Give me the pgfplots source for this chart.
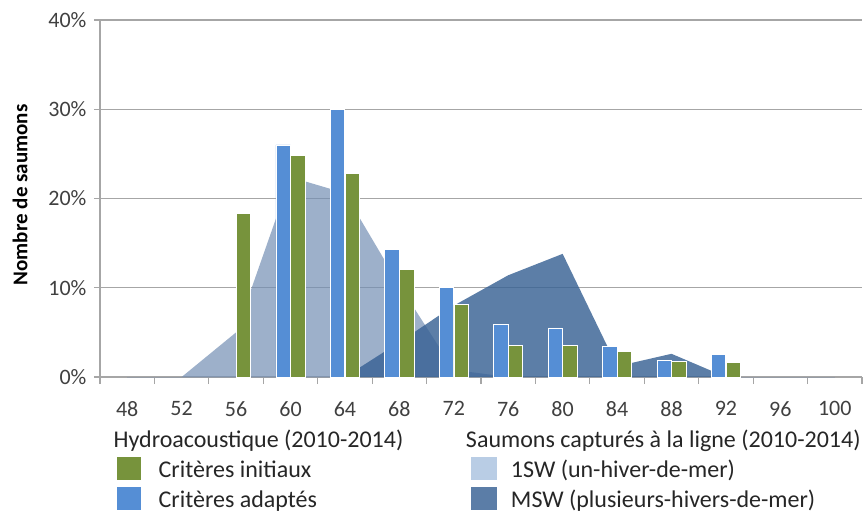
\documentclass[border=0pt]{standalone}
\usepackage{pgfplots}
\pgfplotsset{compat=1.18}
\usepackage{fontspec}
\setmainfont{Carlito}
\definecolor{cgreen}{RGB}{119,147,60}
\definecolor{cblue}{RGB}{85,142,213}
\definecolor{c1sw}{RGB}{115,142,179}
\definecolor{cmsw}{RGB}{56,98,148}
\definecolor{c1swleg}{RGB}{185,205,229}
\definecolor{cmswleg}{RGB}{91,125,167}
\definecolor{gridc}{RGB}{166,166,166}
\definecolor{tickc}{RGB}{64,64,64}
\begin{document}
\begin{tikzpicture}
\useasboundingbox (-100pt,-135pt) rectangle (767pt,377pt);
\begin{axis}[
  at={(0pt,0pt)}, anchor=south west,
  scale only axis, width=762pt, height=357pt,
  xmin=-0.5, xmax=13.5, ymin=0, ymax=40,
  axis x line*=bottom, axis y line*=left,
  axis line style={gridc, line width=1.2pt},
  xtick={0,...,13},
  xticklabels={48,52,56,60,64,68,72,76,80,84,88,92,96,100},
  major x tick style={draw=none},
  minor xtick={-0.5,0.5,...,13.5},
  ytick={0,10,20,30,40},
  yticklabels={0\%,10\%,20\%,30\%,40\%},
  ymajorgrids, grid style={gridc, line width=1.2pt},
  tick align=outside, major tick length=6pt, minor tick length=7pt,
  tick style={gridc, line width=1.2pt},
  ticklabel style={font=\fontsize{22}{26}\selectfont, text=tickc},
  xticklabel style={anchor=north, yshift=-15pt},
  yticklabel style={anchor=east, xshift=-4pt},
  ylabel={\textbf{Nombre de saumons}},
  ylabel style={at={(axis description cs:-0.105,0.51)}, anchor=center, font=\fontsize{21}{25}\selectfont},
  legend columns=2,
  legend cell align=left,
  legend style={at={(axis description cs:0,0)}, anchor=north west, xshift=17pt, yshift=-53pt,
    draw=none, fill=none, inner sep=0pt, column sep=0pt, row sep=5pt,
    font=\fontsize{24}{28}\selectfont, text=black!85,
    nodes={inner sep=0pt, text height=17pt, text depth=5pt}},
]
% 1SW area
\addplot[fill=c1sw, fill opacity=0.7, draw=none, forget plot] coordinates {
 (0,0) (1,0) (2,5.0) (3,22.4) (4,20.6) (5,10.3) (6,0.8) (7,0) (8,0) (9,0) (10,0) (11,0) (12,0) (13,0)
} \closedcycle;
% MSW area
\addplot[fill=cmsw, fill opacity=0.82, draw=none, forget plot] coordinates {
 (0,0) (1,0) (2,0) (3,0) (4,0) (5,3.9) (6,8.0) (7,11.4) (8,13.8) (9,1.2) (10,2.6) (11,0) (12,0) (13,0)
} \closedcycle;
% Critères adaptés (blue)
\addplot[ybar, bar width=0.265, bar shift=-0.135, fill=cblue, draw=white, line width=0.8pt, forget plot] coordinates {
 (3,26.0) (4,30.0) (5,14.3) (6,10.0) (7,5.9) (8,5.5) (9,3.4) (10,1.9) (11,2.5)
};
% Critères initiaux (green)
\addplot[ybar, bar width=0.265, bar shift=0.135, fill=cgreen, draw=white, line width=0.8pt, forget plot] coordinates {
 (2,18.3) (3,24.8) (4,22.8) (5,12.1) (6,8.1) (7,3.5) (8,3.5) (9,2.9) (10,1.7) (11,1.6)
};
\addlegendimage{empty legend}
\addlegendentry{\makebox[312pt][l]{\hspace*{-45pt}Hydroacoustique (2010-2014)}}
\addlegendimage{empty legend}
\addlegendentry{\hspace*{-45pt}Saumons capturés à la ligne (2010-2014)}
\addlegendimage{legend image code/.code={\fill[cgreen] (0pt,-8pt) rectangle (23pt,14pt); \path (41pt,0pt);}}
\addlegendentry{Critères initiaux}
\addlegendimage{legend image code/.code={\fill[c1swleg] (0pt,-8pt) rectangle (25pt,14pt); \path (40pt,0pt);}}
\addlegendentry{1SW (un-hiver-de-mer)}
\addlegendimage{legend image code/.code={\fill[cblue] (0pt,-8pt) rectangle (23pt,14pt); \path (41pt,0pt);}}
\addlegendentry{Critères adaptés}
\addlegendimage{legend image code/.code={\fill[cmswleg] (0pt,-8pt) rectangle (25pt,14pt); \path (40pt,0pt);}}
\addlegendentry{MSW (plusieurs-hivers-de-mer)}
\end{axis}
\end{tikzpicture}
\end{document}
